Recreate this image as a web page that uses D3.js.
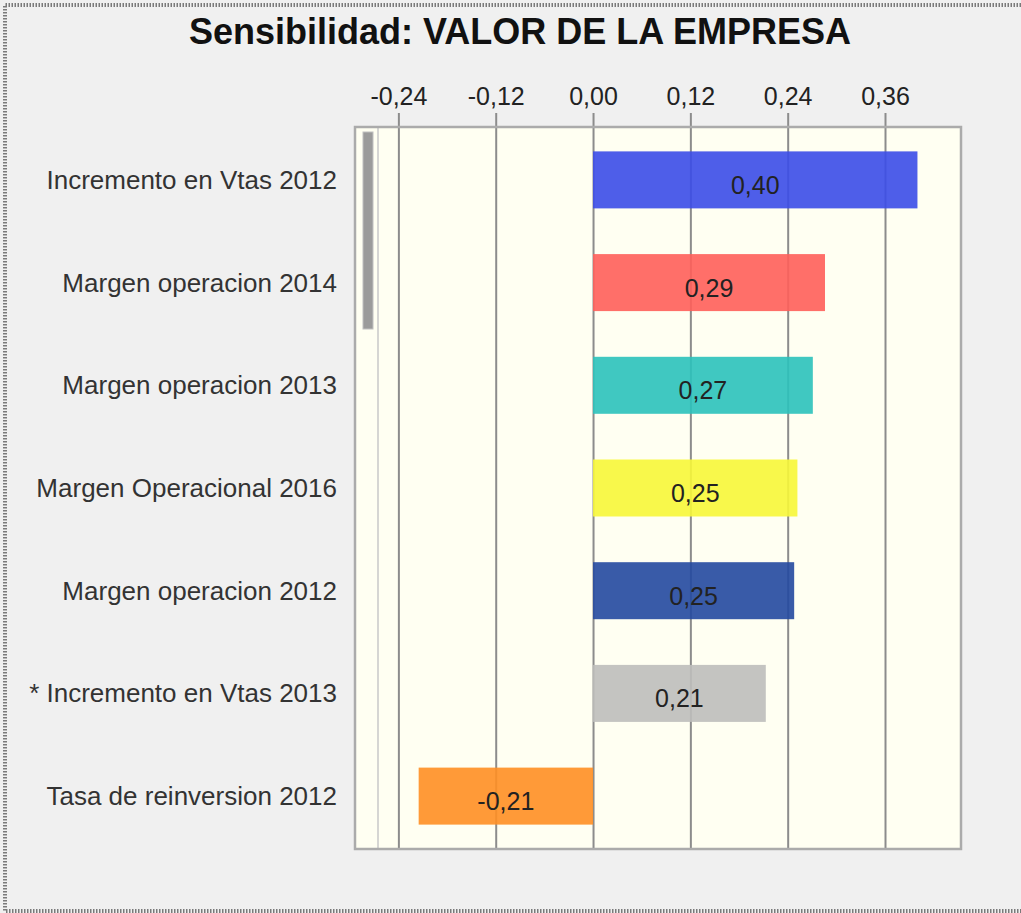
<!DOCTYPE html>
<meta charset="utf-8">
<title>Sensibilidad: VALOR DE LA EMPRESA</title>
<style>
  html, body { margin: 0; padding: 0; background: #f0f0f0; }
  svg { display: block; font-family: "Liberation Sans", Arial, sans-serif; }
  .tick text { font-size: 25px; fill: #222; }
  .tick line { stroke: #8c8c8c; stroke-width: 2px; }
  .cat { font-size: 26px; fill: #333; }
  .val { font-size: 25px; fill: #222; }
</style>
<body>
<script src="https://d3js.org/d3.v7.min.js"></script>
<script>

// chart data
var categories = [
  "Incremento en Vtas 2012",
  "Margen operacion 2014",
  "Margen operacion 2013",
  "Margen Operacional 2016",
  "Margen operacion 2012",
  "* Incremento en Vtas 2013",
  "Tasa de reinversion 2012"
];
var values = [0.40, 0.286, 0.271, 0.252, 0.248, 0.213, -0.215];
var barColors = ["#3b4de8", "#ff5f5a", "#2bc2bb", "#f7f738", "#2449a0", "#bebebb", "#ff8f24"];
var tickValues = [-0.24, -0.12, 0, 0.12, 0.24, 0.36];

var width = 1021, height = 913;
// plot box
var box = {left: 355, right: 961, top: 127, bottom: 849};

var svg = d3.select("body").append("svg")
    .attr("width", width)
    .attr("height", height);

// dotted outer frame (top, left, bottom)
svg.append("path")
    .attr("d", "M1021,5H5V911H1021")
    .attr("fill", "none")
    .attr("stroke", "#7a7a7a")
    .attr("stroke-width", 4)
    .attr("stroke-dasharray", "1.5,1.5");

// title
svg.append("text")
    .attr("x", 520)
    .attr("y", 44)
    .attr("text-anchor", "middle")
    .style("font-size", "36px")
    .style("font-weight", "bold")
    .style("fill", "#111")
    .text("Sensibilidad: VALOR DE LA EMPRESA");

// scales
var x = d3.scaleLinear()
    .domain([-0.2935, 0.4537])
    .range([box.left, box.right]);

var y = d3.scaleBand()
    .domain(categories)
    .range([box.top, box.bottom])
    .paddingInner(0.445)
    .paddingOuter(0.2375);

var fmt = function(d) { return d3.format(".2f")(d).replace("−", "-").replace(".", ","); };

// plot background
svg.append("rect")
    .attr("x", box.left)
    .attr("y", box.top)
    .attr("width", box.right - box.left)
    .attr("height", box.bottom - box.top)
    .attr("fill", "#fffff2");

// top axis with grid lines down to the bottom
var gridTop = 113;
var axis = svg.append("g")
    .attr("transform", "translate(0," + gridTop + ")")
    .call(d3.axisTop(x)
        .tickValues(tickValues)
        .tickFormat(fmt)
        .tickSize(-(box.bottom - gridTop))
        .tickPadding(8));
axis.select(".domain").remove();

// scrollbar look on the left
svg.append("line")
    .attr("x1", 378).attr("x2", 378)
    .attr("y1", box.top).attr("y2", box.bottom)
    .attr("stroke", "#c8c8c8")
    .attr("stroke-width", 1.5);
svg.append("rect")
    .attr("x", 363)
    .attr("y", 132)
    .attr("width", 10)
    .attr("height", 197)
    .attr("fill", "#9b9b9b")
    .attr("stroke", "#c0c0c0");

// frame border
svg.append("rect")
    .attr("x", box.left)
    .attr("y", box.top)
    .attr("width", box.right - box.left)
    .attr("height", box.bottom - box.top)
    .attr("fill", "none")
    .attr("stroke", "#ababab")
    .attr("stroke-width", 2.5);

// bars
svg.selectAll(".bar")
    .data(values)
  .enter().append("rect")
    .attr("class", "bar")
    .attr("x", function(d) { return x(Math.min(0, d)); })
    .attr("y", function(d, i) { return y(categories[i]); })
    .attr("width", function(d) { return Math.abs(x(d) - x(0)); })
    .attr("height", y.bandwidth())
    .attr("fill", function(d, i) { return barColors[i]; })
    .attr("fill-opacity", 0.9);

// value labels in the bars
svg.selectAll(".val")
    .data(values)
  .enter().append("text")
    .attr("class", "val")
    .attr("x", function(d) { return (x(d) + x(0)) / 2; })
    .attr("y", function(d, i) { return y(categories[i]) + y.bandwidth() / 2 + 14; })
    .attr("text-anchor", "middle")
    .text(function(d) { return fmt(d); });

// category labels
svg.selectAll(".cat")
    .data(categories)
  .enter().append("text")
    .attr("class", "cat")
    .attr("x", 337)
    .attr("y", function(d) { return y(d) + y.bandwidth() / 2 + 9; })
    .attr("text-anchor", "end")
    .text(function(d) { return d; });

</script>
</body>
